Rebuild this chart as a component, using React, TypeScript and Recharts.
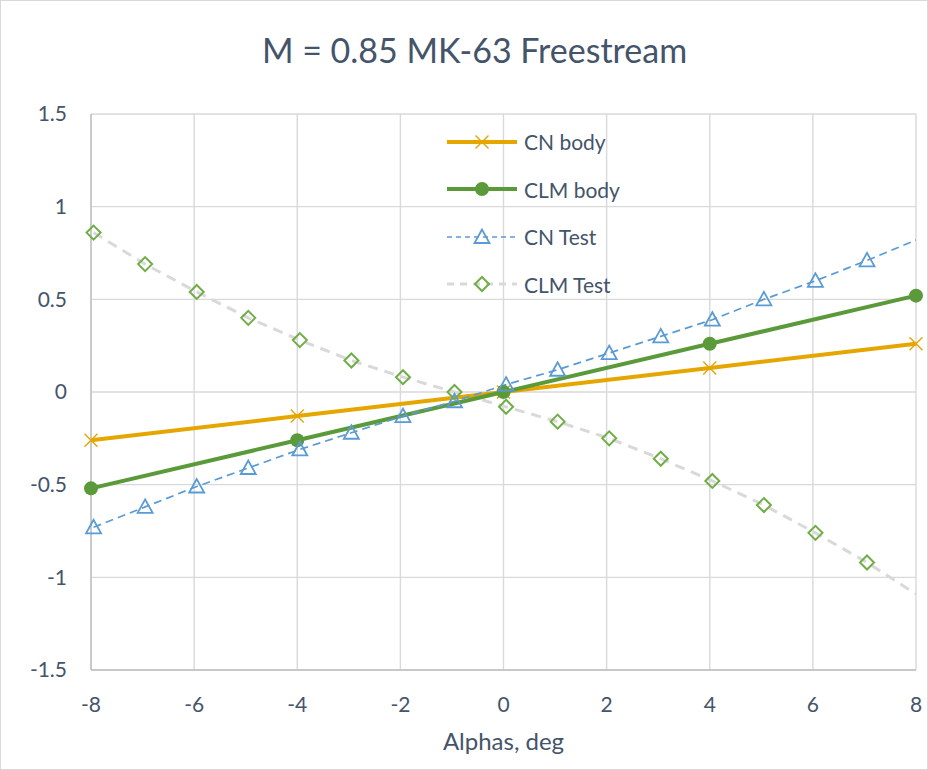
import React from 'react';
import { LineChart, Line, XAxis, YAxis, CartesianGrid, Legend } from 'recharts';

// body model (exact alpha stations)
const bodyAlpha = [-8, -4, 0, 4, 8];
const cnBody = [-0.26, -0.13, 0, 0.13, 0.26];
const clmBody = [-0.52, -0.26, 0, 0.26, 0.52];

// wind tunnel test points (last point has no marker, sits on the plot edge)
const testAlpha = [-7.95, -6.95, -5.95, -4.95, -3.95, -2.95, -1.95, -0.95, 0.05, 1.05, 2.05, 3.05, 4.05, 5.05, 6.05, 7.05, 8];
const cnTest = [-0.73, -0.62, -0.51, -0.41, -0.31, -0.22, -0.13, -0.05, 0.04, 0.12, 0.21, 0.3, 0.39, 0.5, 0.6, 0.71, 0.82];
const clmTest = [0.86, 0.69, 0.54, 0.4, 0.28, 0.17, 0.08, 0.0, -0.08, -0.16, -0.25, -0.36, -0.48, -0.61, -0.76, -0.92, -1.09];

const xTicks = [-8, -6, -4, -2, 0, 2, 4, 6, 8];
const yTicks = [-1.5, -1, -0.5, 0, 0.5, 1, 1.5];

const seriesNames = ['CN body', 'CLM body', 'CN Test', 'CLM Test'];

const ORANGE = '#E5A600';
const GREEN = '#5B9A3A';
const BLUE = '#5B9BD5';
const LIGHT_GREEN = '#70AD47';
const GREY_DASH = '#D9D9D9';
const TEXT = '#44546A';
const FONT = 'Lato, "Open Sans", sans-serif';

const bodyCn = bodyAlpha.map((a, i) => ({ alpha: a, v: cnBody[i] }));
const bodyClm = bodyAlpha.map((a, i) => ({ alpha: a, v: clmBody[i] }));
const testCn = testAlpha.map((a, i) => ({ alpha: a, v: cnTest[i] }));
const testClm = testAlpha.map((a, i) => ({ alpha: a, v: clmTest[i] }));

const Cross = (cx: number, cy: number, k?: string) => (
    <g key={k}>
        <line x1={cx - 6.5} y1={cy - 6.5} x2={cx + 6.5} y2={cy + 6.5} stroke={ORANGE} strokeWidth={1.4} />
        <line x1={cx - 6.5} y1={cy + 6.5} x2={cx + 6.5} y2={cy - 6.5} stroke={ORANGE} strokeWidth={1.4} />
    </g>
);
const Dot = (cx: number, cy: number, k?: string) => (
    <circle key={k} cx={cx} cy={cy} r={7} fill={GREEN} />
);
const Tri = (cx: number, cy: number, k?: string) => (
    <polygon key={k} points={`${cx},${cy - 7.5} ${cx - 7.5},${cy + 6} ${cx + 7.5},${cy + 6}`}
        fill="none" stroke={BLUE} strokeWidth={1.8} />
);
const Diamond = (cx: number, cy: number, k?: string) => (
    <polygon key={k} points={`${cx},${cy - 7} ${cx + 7},${cy} ${cx},${cy + 7} ${cx - 7},${cy}`}
        fill="none" stroke={LIGHT_GREEN} strokeWidth={2} />
);

const markerFn = (draw: typeof Cross, skipLast: boolean, len: number) => (props: any) => {
    const { cx, cy, index } = props;
    const k = `m-${index}`;
    if (skipLast && index === len - 1) return <g key={k} />;
    return draw(cx, cy, k);
};

const legendRows = [
    { color: ORANGE, width: 4, dash: undefined, marker: Cross },
    { color: GREEN, width: 4, dash: undefined, marker: Dot },
    { color: BLUE, width: 1.5, dash: '5 4', marker: Tri },
    { color: GREY_DASH, width: 3, dash: '7 6', marker: Diamond },
];

const ChartLegend = () => (
    <div>
        {legendRows.map((r, i) => (
            <div key={i} style={{ display: 'flex', alignItems: 'center', height: 47.5 }}>
                <svg width={77} height={20}>
                    <line x1={0} y1={10} x2={70} y2={10} stroke={r.color} strokeWidth={r.width} strokeDasharray={r.dash} />
                    {r.marker(35, 10)}
                </svg>
                <span style={{ fontFamily: FONT, fontSize: 21, color: TEXT }}>{seriesNames[i]}</span>
            </div>
        ))}
    </div>
);

export default function App() {
    return (
        <div style={{ position: 'fixed', left: 0, top: 0, width: 928, height: 770, background: '#fff', border: '1px solid #D9D9D9', boxSizing: 'border-box' }}>
            <div style={{ position: 'absolute', top: 29, left: 49, width: 849, textAlign: 'center', fontFamily: FONT, fontSize: 34, color: TEXT, lineHeight: 1.2 }}>
                M = 0.85 MK-63 Freestream
            </div>
            <div style={{ position: 'absolute', left: -1, top: -1 }}>
                <LineChart width={928} height={770} margin={{ top: 114, right: 12, bottom: 10, left: 0 }}>
                    <CartesianGrid stroke="#D9D9D9" strokeWidth={1.4} />
                    <XAxis dataKey="alpha" type="number" domain={[-8, 8]} ticks={xTicks}
                        height={90} axisLine={{ stroke: '#BFBFBF', strokeWidth: 1.4 }} tickLine={false} tickMargin={21}
                        tick={{ fill: TEXT, fontSize: 21, fontFamily: FONT }}
                        label={{ value: 'Alphas, deg', position: 'insideBottom', offset: 10, fill: TEXT, fontSize: 24, fontFamily: FONT }} />
                    <YAxis type="number" domain={[-1.5, 1.5]} ticks={yTicks} width={91}
                        axisLine={{ stroke: '#BFBFBF', strokeWidth: 1.4 }} tickLine={false} tickMargin={18}
                        tick={{ fill: TEXT, fontSize: 21, fontFamily: FONT }} />
                    <Legend verticalAlign="middle" align="center" layout="horizontal" content={ChartLegend}
                        wrapperStyle={{ top: 118, left: 447, width: 200 }} />
                    <Line data={testClm} dataKey="v" name={seriesNames[3]} stroke={GREY_DASH} strokeWidth={3}
                        strokeDasharray="10 7" dot={markerFn(Diamond, true, testClm.length)} isAnimationActive={false} />
                    <Line data={bodyCn} dataKey="v" name={seriesNames[0]} stroke={ORANGE} strokeWidth={4}
                        dot={markerFn(Cross, false, bodyCn.length)} isAnimationActive={false} />
                    <Line data={bodyClm} dataKey="v" name={seriesNames[1]} stroke={GREEN} strokeWidth={4}
                        dot={markerFn(Dot, false, bodyClm.length)} isAnimationActive={false} />
                    <Line data={testCn} dataKey="v" name={seriesNames[2]} stroke={BLUE} strokeWidth={1.7}
                        strokeDasharray="8 5" dot={markerFn(Tri, true, testCn.length)} isAnimationActive={false} />
                </LineChart>
            </div>
        </div>
    );
}
